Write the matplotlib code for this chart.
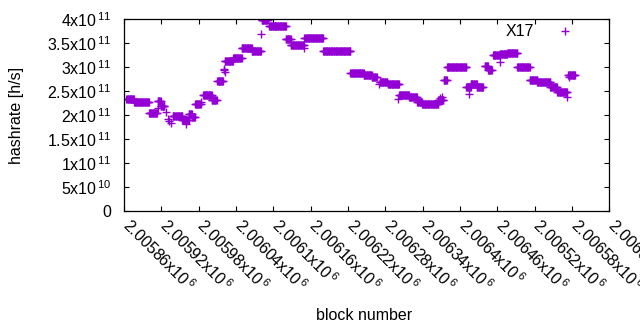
import matplotlib

matplotlib.use("Agg")
import matplotlib.pyplot as plt
import matplotlib.transforms as mtransforms
import numpy as np

# plateau segments of hashrate (block ranges with a constant value, in 1e11 h/s)
seg_start = [2005864, 2005876, 2005900, 2005914, 2005919, 2005938, 2005954, 2005964, 2005969,
             2005974, 2005987, 2006001, 2006010, 2006022, 2006035, 2006049, 2006065, 2006081,
             2006093, 2006102, 2006120, 2006128, 2006150, 2006180, 2006224, 2006245, 2006258,
             2006271, 2006284, 2006302, 2006318, 2006331, 2006339, 2006365, 2006374, 2006379,
             2006410, 2006417, 2006427, 2006440, 2006445, 2006453, 2006464, 2006476, 2006492,
             2006512, 2006524, 2006545, 2006556, 2006574]
seg_end = [2005876, 2005900, 2005913, 2005919, 2005925, 2005954, 2005964, 2005969, 2005974,
           2005983, 2006001, 2006009, 2006019, 2006035, 2006049, 2006065, 2006080, 2006091,
           2006102, 2006120, 2006128, 2006149, 2006180, 2006224, 2006245, 2006258, 2006266,
           2006283, 2006302, 2006318, 2006331, 2006339, 2006365, 2006373, 2006379, 2006410,
           2006417, 2006427, 2006437, 2006445, 2006451, 2006464, 2006476, 2006492, 2006512,
           2006524, 2006545, 2006556, 2006572, 2006585]
seg_value = [2.33, 2.265, 2.035, 2.29, 2.20, 1.98, 1.90, 2.03, 1.97,
             2.23, 2.43, 2.31, 2.71, 3.14, 3.20, 3.40, 3.34, 3.98,
             3.87, 3.85, 3.58, 3.47, 3.60, 3.33, 2.87, 2.84, 2.79,
             2.70, 2.66, 2.43, 2.37, 2.28, 2.24, 2.31, 2.74, 3.01,
             2.58, 2.66, 2.58, 3.03, 2.95, 3.25, 3.27, 3.30, 3.01,
             2.73, 2.69, 2.58, 2.49, 2.84]

# scattered single blocks
pt_block = [2005914, 2005928, 2005931, 2005933, 2005935, 2005960, 2005984, 2006020, 2006021,
            2006022, 2006080, 2006149, 2006270, 2006300, 2006368, 2006371, 2006414, 2006464,
            2006572, 2006575]
pt_value = [2.15, 2.06, 1.93, 1.87, 1.83, 1.81, 2.27, 2.94, 2.97,
            2.90, 3.70, 3.40, 2.65, 2.33, 2.36, 2.37, 2.45, 3.10,
            2.37, 2.80]

x_ticks = [2005860 + 60 * i for i in range(14)]
x_labels = ["2.00586", "2.00592", "2.00598", "2.00604", "2.0061", "2.00616", "2.00622",
            "2.00628", "2.00634", "2.0064", "2.00646", "2.00652", "2.00658", "2.00664"]
y_ticks = [0, 0.5e11, 1e11, 1.5e11, 2e11, 2.5e11, 3e11, 3.5e11, 4e11]
y_labels = ["0", "5x10$^{\\,10}$", "1x10$^{\\,11}$", "1.5x10$^{\\,11}$", "2x10$^{\\,11}$",
            "2.5x10$^{\\,11}$", "3x10$^{\\,11}$", "3.5x10$^{\\,11}$", "4x10$^{\\,11}$"]

FS = 11.5
plt.rcParams["font.family"] = ["Liberation Sans", "DejaVu Sans"]
plt.rcParams["mathtext.fontset"] = "custom"
plt.rcParams["mathtext.rm"] = "Liberation Sans"
plt.rcParams["mathtext.default"] = "regular"
plt.rcParams["font.size"] = FS

blocks, values = [], []
for s, e, v in zip(seg_start, seg_end, seg_value):
    b = np.arange(s, e + 1)
    blocks.append(b)
    values.append(np.full(len(b), v))
blocks.append(np.array(pt_block))
values.append(np.array(pt_value))
blocks = np.concatenate(blocks)
values = np.concatenate(values) * 1e11

fig = plt.figure(figsize=(6.4, 3.3), dpi=100)
ax = fig.add_axes([124 / 640, 1 - 211 / 330, (609.3 - 124) / 640, (211 - 19.3) / 330])
ax.plot(blocks, values, linestyle="none", marker="+", markersize=5.2, markeredgewidth=1.0,
        color="#9400d3", label="X17")

ax.set_xlim(2005860, 2006640)
ax.set_ylim(0, 4e11)
ax.set_xticks(x_ticks)
ax.set_xticklabels([f"{l}x10$^{{\\,6}}$" for l in x_labels], rotation=-45,
                   ha="left", va="baseline", rotation_mode="anchor")
ax.set_yticks(y_ticks)
ax.set_yticklabels(y_labels)
ax.tick_params(direction="in", length=3.5, width=0.8, top=True, right=True,
               labelsize=FS, colors="black")
ax.tick_params(axis="x", pad=11)
ax.tick_params(axis="y", pad=9)
shift = mtransforms.ScaledTranslation(-2 / 72, 0, fig.dpi_scale_trans)
for lab in ax.get_xticklabels():
    lab.set_transform(lab.get_transform() + shift)
for sp in ax.spines.values():
    sp.set_linewidth(0.9)

fig.text(17 / 640, 1 - 115 / 330, "hashrate [h/s]", rotation=90, ha="center", va="center",
         fontsize=FS)
fig.text(364 / 640, 1 - 315 / 330, "block number", ha="center", va="center", fontsize=FS)

ax.legend(loc="center right", bbox_to_anchor=(581 / 640, 1 - 32 / 330),
          bbox_transform=fig.transFigure, frameon=False, markerfirst=False,
          handlelength=2, handletextpad=0.95, borderpad=0, borderaxespad=0,
          fontsize=FS)

fig.savefig("out.png", dpi=100)
